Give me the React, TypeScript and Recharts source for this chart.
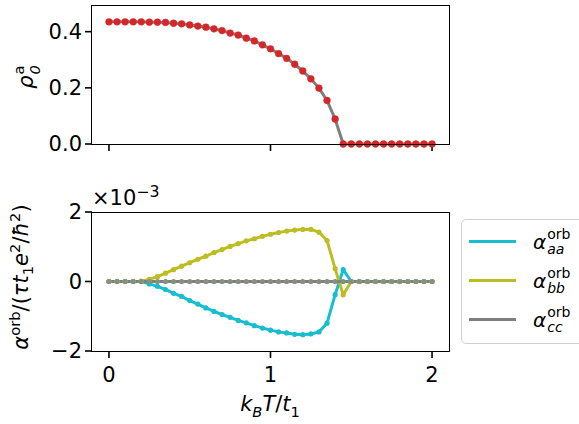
import React from 'react';
import { Line, LineChart, XAxis, YAxis } from 'recharts';

// temperature grid k_B T / t_1
const T = [
  0, 0.05, 0.1, 0.15, 0.2, 0.25, 0.3, 0.35, 0.4, 0.45,
  0.5, 0.55, 0.6, 0.65, 0.7, 0.75, 0.8, 0.85, 0.9, 0.95,
  1.0, 1.05, 1.1, 1.15, 1.2, 1.25, 1.3, 1.35, 1.4, 1.45,
  1.5, 1.55, 1.6, 1.65, 1.7, 1.75, 1.8, 1.85, 1.9, 1.95, 2.0,
];

// order parameter rho_0^a
const RHO = [
  0.435, 0.435, 0.435, 0.435, 0.435, 0.434, 0.434, 0.433, 0.43, 0.428,
  0.424, 0.42, 0.416, 0.41, 0.404, 0.395, 0.388, 0.377, 0.367, 0.353,
  0.339, 0.322, 0.305, 0.284, 0.26, 0.232, 0.199, 0.155, 0.089, 0.0,
  0, 0, 0, 0, 0, 0, 0, 0, 0, 0, 0,
];

// alpha^orb in units of 1e-3
const AA = [
  0, 0, 0, 0, 0, -0.07, -0.14, -0.23, -0.34, -0.43,
  -0.55, -0.65, -0.76, -0.86, -0.95, -1.03, -1.12, -1.19, -1.27, -1.34,
  -1.4, -1.45, -1.48, -1.52, -1.53, -1.51, -1.45, -1.2, -0.38, 0.34,
  0, 0, 0, 0, 0, 0, 0, 0, 0, 0, 0,
];
const BB = [
  0, 0, 0, 0, 0.01, 0.06, 0.14, 0.24, 0.34, 0.44,
  0.54, 0.64, 0.73, 0.83, 0.92, 1.01, 1.09, 1.17, 1.23, 1.3,
  1.36, 1.41, 1.45, 1.48, 1.5, 1.5, 1.42, 1.18, 0.37, -0.38,
  0, 0, 0, 0, 0, 0, 0, 0, 0, 0, 0,
];
const CC = [
  0, 0, 0, 0, 0, 0, 0, 0, 0, 0,
  0, 0, 0, 0, 0, 0, 0, 0, 0, 0,
  0, 0, 0, 0, 0, 0, 0, 0, 0, 0,
  0, 0, 0, 0, 0, 0, 0, 0, 0, 0, 0,
];

const X_TICKS = [0, 1, 2];
const RHO_TICKS = [0, 0.2, 0.4];
const ALPHA_TICKS = [-2, 0, 2];

const CYAN = '#17becf';
const OLIVE = '#bcbd22';
const GRAY = '#7f7f7f';
const RED = '#d62728';
const FONT = '"DejaVu Sans", sans-serif';

const top = T.map((t, i) => ({ t, rho: RHO[i] }));
const bottom = T.map((t, i) => ({ t, aa: AA[i], bb: BB[i], cc: CC[i] }));

const tickStyle = { fontSize: 21, fill: '#000', fontFamily: FONT };
const minus = (v: number) => (v < 0 ? '\u2212' + Math.abs(v) : String(v));

function Frame({ left, top: t, w, h }: { left: number; top: number; w: number; h: number }) {
  return <div style={{ position: 'absolute', left, top: t, width: w, height: h, border: '1.6px solid #000', boxSizing: 'border-box', pointerEvents: 'none' }} />;
}

function SupSub({ base, sup, sub }: { base: React.ReactNode; sup: string; sub: string }) {
  return (
    <span style={{ display: 'inline-flex', alignItems: 'center' }}>
      <span style={{ fontStyle: 'italic' }}>{base}</span>
      <span style={{ display: 'inline-flex', flexDirection: 'column', fontSize: '0.7em', lineHeight: 0.8, marginLeft: 1, gap: 4 }}>
        <span style={{ marginTop: '-0.6em' }}>{sup}</span>
        <span style={{ fontStyle: 'italic', marginBottom: '-0.7em' }}>{sub}</span>
      </span>
    </span>
  );
}

function LegendRow({ color, sub }: { color: string; sub: string }) {
  return (
    <div style={{ display: 'flex', alignItems: 'center', height: 39 }}>
      <div style={{ width: 47, height: 3, background: color, marginLeft: 7, marginRight: 17 }} />
      <span style={{ fontSize: 20 }}><SupSub base="α" sup="orb" sub={sub} /></span>
    </div>
  );
}

const sub = { fontSize: '0.7em' };

export default function App() {
  return (
    <div style={{ position: 'absolute', left: 0, top: 0, width: 579, height: 424, background: '#fff', fontFamily: FONT, color: '#000', overflow: 'hidden' }}>
      <div style={{ position: 'absolute', left: 0, top: 0 }}>
        <LineChart width={579} height={176} data={top} margin={{ top: 5, right: 130, bottom: 0, left: 0 }}>
          <XAxis dataKey="t" type="number" domain={[-0.105, 2.105]} ticks={X_TICKS} tickFormatter={() => ''}
            tickSize={7} height={32} axisLine={false} tickLine={{ stroke: '#000', strokeWidth: 1.6 }} />
          <YAxis type="number" domain={[0, 0.495]} ticks={RHO_TICKS} tickFormatter={(v: number) => v.toFixed(1)}
            tickSize={7} tickMargin={3} width={92} axisLine={false} tick={tickStyle} tickLine={{ stroke: '#000', strokeWidth: 1.6 }} />
          <Line dataKey="rho" stroke={GRAY} strokeWidth={3} isAnimationActive={false}
            dot={{ r: 3.4, fill: RED, stroke: RED, strokeWidth: 0.5 }} />
        </LineChart>
      </div>
      <Frame left={91} top={4.5} w={359} h={140.5} />

      <div style={{ position: 'absolute', left: 0, top: 180 }}>
        <LineChart width={579} height={244} data={bottom} margin={{ top: 32, right: 130, bottom: 0, left: 0 }}>
          <XAxis dataKey="t" type="number" domain={[-0.105, 2.105]} ticks={X_TICKS} tickSize={7} tickMargin={9}
            height={73} axisLine={false} tick={tickStyle} tickLine={{ stroke: '#000', strokeWidth: 1.6 }} />
          <YAxis type="number" domain={[-2, 2]} ticks={ALPHA_TICKS} tickFormatter={minus}
            tickSize={7} tickMargin={3} width={92} axisLine={false} tick={tickStyle} tickLine={{ stroke: '#000', strokeWidth: 1.6 }} />
          <Line dataKey="aa" stroke={CYAN} strokeWidth={3} isAnimationActive={false} dot={{ r: 2.6, fill: CYAN, stroke: CYAN, strokeWidth: 0 }} />
          <Line dataKey="bb" stroke={OLIVE} strokeWidth={3} isAnimationActive={false} dot={{ r: 2.6, fill: OLIVE, stroke: OLIVE, strokeWidth: 0 }} />
          <Line dataKey="cc" stroke={GRAY} strokeWidth={3} isAnimationActive={false} dot={{ r: 2.6, fill: '#86907f', stroke: '#86907f', strokeWidth: 0 }} />
        </LineChart>
      </div>
      <Frame left={91} top={211.5} w={359} h={140.5} />

      {/* axis labels */}
      <div style={{ position: 'absolute', left: 26, top: 77, transform: 'translate(-50%,-50%) rotate(-90deg)', fontSize: 21, whiteSpace: 'nowrap' }}>
        <SupSub base="ρ" sup="a" sub="0" />
      </div>
      <div style={{ position: 'absolute', left: 21, top: 277, transform: 'translate(-50%,-50%) rotate(-90deg)', fontSize: 21, whiteSpace: 'nowrap' }}>
        <i>α</i><sup style={sub}>orb</sup>/(<i>τt</i><sub style={sub}>1</sub><i>e</i><sup style={sub}>2</sup>/<i>ħ</i><sup style={sub}>2</sup>)
      </div>
      <div style={{ position: 'absolute', left: 270, top: 406, transform: 'translate(-50%,-50%)', fontSize: 21, whiteSpace: 'nowrap' }}>
        <i>k</i><sub style={{ fontSize: '0.7em', fontStyle: 'italic' }}>B</sub><i>T</i>/<i>t</i><sub style={sub}>1</sub>
      </div>
      <div style={{ position: 'absolute', left: 92, top: 184, fontSize: 21, whiteSpace: 'nowrap', lineHeight: 1 }}>
        ×10<sup style={{ fontSize: '0.75em' }}>−3</sup>
      </div>

      {/* legend */}
      <div style={{ position: 'absolute', left: 461, top: 219, width: 140, height: 125, border: '1.3px solid #d0d0d0', borderRadius: 5, boxSizing: 'border-box', paddingTop: 2 }}>
        <LegendRow color={CYAN} sub="aa" />
        <LegendRow color={OLIVE} sub="bb" />
        <LegendRow color={GRAY} sub="cc" />
      </div>
    </div>
  );
}
